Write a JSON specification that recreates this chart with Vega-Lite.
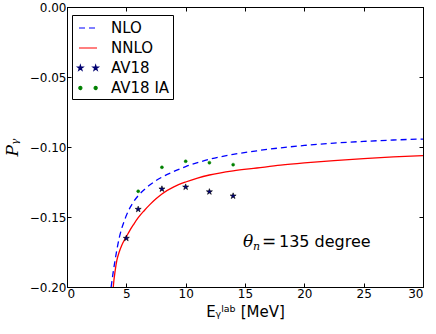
{
  "$schema": "https://vega.github.io/schema/vega-lite/v6.json",
  "width": 356,
  "height": 280,
  "autosize": {"type": "none"},
  "padding": {"left": 67, "top": 7, "right": 13, "bottom": 47},
  "background": "white",
  "config": {
    "view": {"stroke": "black", "strokeWidth": 1},
    "font": "DejaVu Sans",
    "axis": {
      "grid": false,
      "domainColor": "black",
      "domainWidth": 1,
      "tickColor": "black",
      "tickWidth": 1,
      "tickSize": -4,
      "labelColor": "black",
      "titleColor": "black",
      "labelFont": "DejaVu Sans",
      "labelFontSize": 12,
      "labelPadding": 5,
      "titleFont": "DejaVu Sans",
      "titleFontWeight": "normal"
    },
    "legend": {
      "orient": "none",
      "legendX": 5,
      "legendY": 8,
      "strokeColor": "black",
      "fillColor": "white",
      "padding": 3,
      "symbolSize": 324,
      "symbolOffset": 3,
      "symbolStrokeWidth": 1.2,
      "symbolOpacity": 1,
      "labelFont": "DejaVu Sans",
      "labelFontSize": 15,
      "labelColor": "black",
      "labelOffset": 13,
      "rowPadding": 2,
      "labelLimit": 200
    }
  },
  "datasets": {
    "curves": [
      {"series": "NLO", "E": 3.72, "P": -0.2},
      {"series": "NLO", "E": 3.8, "P": -0.195},
      {"series": "NLO", "E": 3.9, "P": -0.189},
      {"series": "NLO", "E": 4.05, "P": -0.181},
      {"series": "NLO", "E": 4.2, "P": -0.1735},
      {"series": "NLO", "E": 4.4, "P": -0.165},
      {"series": "NLO", "E": 4.6, "P": -0.1585},
      {"series": "NLO", "E": 4.8, "P": -0.1535},
      {"series": "NLO", "E": 5.0, "P": -0.149},
      {"series": "NLO", "E": 5.3, "P": -0.1435},
      {"series": "NLO", "E": 5.6, "P": -0.1393},
      {"series": "NLO", "E": 6.0, "P": -0.1348},
      {"series": "NLO", "E": 6.5, "P": -0.1305},
      {"series": "NLO", "E": 7.0, "P": -0.127},
      {"series": "NLO", "E": 7.5, "P": -0.124},
      {"series": "NLO", "E": 8.0, "P": -0.1215},
      {"series": "NLO", "E": 9.0, "P": -0.1175},
      {"series": "NLO", "E": 10.0, "P": -0.114},
      {"series": "NLO", "E": 11.0, "P": -0.1112},
      {"series": "NLO", "E": 12.0, "P": -0.1088},
      {"series": "NLO", "E": 14.0, "P": -0.1053},
      {"series": "NLO", "E": 16.0, "P": -0.1027},
      {"series": "NLO", "E": 18.0, "P": -0.1006},
      {"series": "NLO", "E": 20.0, "P": -0.0989},
      {"series": "NLO", "E": 22.5, "P": -0.0972},
      {"series": "NLO", "E": 25.0, "P": -0.096},
      {"series": "NLO", "E": 27.5, "P": -0.095},
      {"series": "NLO", "E": 30.0, "P": -0.0943},
      {"series": "NNLO", "E": 3.9, "P": -0.2},
      {"series": "NNLO", "E": 3.95, "P": -0.1955},
      {"series": "NNLO", "E": 4.0, "P": -0.192},
      {"series": "NNLO", "E": 4.1, "P": -0.186},
      {"series": "NNLO", "E": 4.2, "P": -0.181},
      {"series": "NNLO", "E": 4.4, "P": -0.175},
      {"series": "NNLO", "E": 4.6, "P": -0.1705},
      {"series": "NNLO", "E": 4.8, "P": -0.167},
      {"series": "NNLO", "E": 5.0, "P": -0.164},
      {"series": "NNLO", "E": 5.3, "P": -0.1595},
      {"series": "NNLO", "E": 5.6, "P": -0.1555},
      {"series": "NNLO", "E": 6.0, "P": -0.1505},
      {"series": "NNLO", "E": 6.5, "P": -0.1455},
      {"series": "NNLO", "E": 7.0, "P": -0.141},
      {"series": "NNLO", "E": 7.5, "P": -0.137},
      {"series": "NNLO", "E": 8.0, "P": -0.1335},
      {"series": "NNLO", "E": 9.0, "P": -0.1285},
      {"series": "NNLO", "E": 10.0, "P": -0.125},
      {"series": "NNLO", "E": 11.0, "P": -0.1222},
      {"series": "NNLO", "E": 12.0, "P": -0.12},
      {"series": "NNLO", "E": 14.0, "P": -0.117},
      {"series": "NNLO", "E": 16.0, "P": -0.115},
      {"series": "NNLO", "E": 18.0, "P": -0.113},
      {"series": "NNLO", "E": 20.0, "P": -0.1114},
      {"series": "NNLO", "E": 22.5, "P": -0.1097},
      {"series": "NNLO", "E": 25.0, "P": -0.1083},
      {"series": "NNLO", "E": 27.5, "P": -0.1071},
      {"series": "NNLO", "E": 30.0, "P": -0.1062}
    ],
    "points": [
      {"series": "AV18", "E": 5, "P": -0.1652},
      {"series": "AV18", "E": 6, "P": -0.1445},
      {"series": "AV18", "E": 8, "P": -0.13},
      {"series": "AV18", "E": 10, "P": -0.1286},
      {"series": "AV18", "E": 12, "P": -0.132},
      {"series": "AV18", "E": 14, "P": -0.135},
      {"series": "AV18 IA", "E": 6, "P": -0.1316},
      {"series": "AV18 IA", "E": 8, "P": -0.1145},
      {"series": "AV18 IA", "E": 10, "P": -0.1102},
      {"series": "AV18 IA", "E": 12, "P": -0.1112},
      {"series": "AV18 IA", "E": 14, "P": -0.1126}
    ],
    "legend": [
      {"series": "NLO"},
      {"series": "NNLO"},
      {"series": "AV18"},
      {"series": "AV18 IA"}
    ],
    "note": [
      {"E": 14.83, "P": -0.1714}
    ]
  },
  "layer": [
    {
      "data": {"name": "curves"},
      "transform": [{"filter": "datum.series === 'NLO'"}],
      "mark": {"type": "line", "color": "#0000ff", "strokeWidth": 1.3, "strokeDash": [6, 4], "interpolate": "monotone", "clip": true},
      "encoding": {
        "x": {"field": "E", "type": "quantitative", "scale": {"domain": [0, 30], "nice": false},
              "axis": {"orient": "bottom", "values": [0, 5, 10, 15, 20, 25, 30], "format": "d", "title": "Eᵧˡᵃᵇ [MeV]", "titleFontSize": 15, "titlePadding": 5}},
        "y": {"field": "P", "type": "quantitative", "scale": {"domain": [-0.2, 0], "nice": false, "zero": false},
              "axis": {"orient": "left", "values": [-0.2, -0.15, -0.1, -0.05, 0], "format": ".2f", "title": "Pᵧ", "titleFont": "DejaVu Serif", "titleFontStyle": "italic", "titleFontSize": 17, "titlePadding": 8}}
      }
    },
    {
      "data": {"name": "curves"},
      "transform": [{"filter": "datum.series === 'NNLO'"}],
      "mark": {"type": "line", "color": "#ff0000", "strokeWidth": 1.3, "interpolate": "monotone", "clip": true},
      "encoding": {
        "x": {"field": "E", "type": "quantitative",
              "axis": {"orient": "top", "values": [0, 5, 10, 15, 20, 25, 30], "labels": false, "title": null}},
        "y": {"field": "P", "type": "quantitative",
              "axis": {"orient": "right", "values": [-0.2, -0.15, -0.1, -0.05, 0], "labels": false, "title": null}}
      }
    },
    {
      "data": {"name": "points"},
      "transform": [{"filter": "datum.series === 'AV18'"}],
      "mark": {"type": "point", "filled": true, "fill": "#000080", "stroke": "#000000", "strokeWidth": 0.6, "opacity": 1, "size": 40,
               "shape": "M0,-1L0.2245,-0.309L0.951,-0.309L0.3633,0.118L0.588,0.809L0,0.382L-0.588,0.809L-0.3633,0.118L-0.951,-0.309L-0.2245,-0.309Z"},
      "encoding": {
        "x": {"field": "E", "type": "quantitative", "axis": null},
        "y": {"field": "P", "type": "quantitative", "axis": null}
      }
    },
    {
      "data": {"name": "points"},
      "transform": [{"filter": "datum.series === 'AV18 IA'"}],
      "mark": {"type": "point", "filled": true, "fill": "#008000", "stroke": "#008000", "strokeWidth": 0.5, "opacity": 1, "size": 9, "shape": "circle"},
      "encoding": {
        "x": {"field": "E", "type": "quantitative", "axis": null},
        "y": {"field": "P", "type": "quantitative", "axis": null}
      }
    },
    {
      "data": {"name": "legend"},
      "mark": {"type": "point", "opacity": 0},
      "encoding": {
        "fill": {"field": "series", "type": "nominal",
                 "scale": {"domain": ["NLO", "NNLO", "AV18", "AV18 IA"], "range": ["transparent", "transparent", "#000080", "#008000"]},
                 "legend": {"title": null}},
        "stroke": {"field": "series", "type": "nominal",
                   "scale": {"domain": ["NLO", "NNLO", "AV18", "AV18 IA"], "range": ["#0000ff", "#ff0000", "#000070", "#008000"]},
                   "legend": {"title": null}},
        "shape": {"field": "series", "type": "nominal",
                  "scale": {"domain": ["NLO", "NNLO", "AV18", "AV18 IA"],
                            "range": ["M-1,0L1,0", "M-1,0L1,0",
                                      "M-0.85,-0.3L-0.783,-0.093L-0.565,-0.093L-0.741,0.035L-0.674,0.243L-0.85,0.115L-1.026,0.243L-0.959,0.035L-1.135,-0.093L-0.917,-0.093Z M0.85,-0.3L0.917,-0.093L1.135,-0.093L0.959,0.035L1.026,0.243L0.85,0.115L0.674,0.243L0.741,0.035L0.565,-0.093L0.783,-0.093Z",
                                      "M-1.02,0A0.17,0.17 0 1,0 -0.68,0A0.17,0.17 0 1,0 -1.02,0Z M0.68,0A0.17,0.17 0 1,0 1.02,0A0.17,0.17 0 1,0 0.68,0Z"]},
                  "legend": {"title": null}},
        "strokeDash": {"field": "series", "type": "nominal",
                       "scale": {"domain": ["NLO", "NNLO", "AV18", "AV18 IA"], "range": [[6, 4], [1, 0], [1, 0], [1, 0]]},
                       "legend": {"title": null}}
      }
    },
    {
      "data": {"name": "note"},
      "mark": {"type": "text", "text": "θ", "font": "DejaVu Serif", "fontStyle": "italic", "fontSize": 17, "align": "left", "baseline": "alphabetic", "color": "black"},
      "encoding": {
        "x": {"field": "E", "type": "quantitative", "axis": null},
        "y": {"field": "P", "type": "quantitative", "axis": null}
      }
    },
    {
      "data": {"name": "note"},
      "mark": {"type": "text", "text": "n", "font": "DejaVu Serif", "fontStyle": "italic", "fontSize": 11, "align": "left", "baseline": "alphabetic", "dx": 10, "dy": 3, "color": "black"},
      "encoding": {
        "x": {"field": "E", "type": "quantitative", "axis": null},
        "y": {"field": "P", "type": "quantitative", "axis": null}
      }
    },
    {
      "data": {"name": "note"},
      "mark": {"type": "text", "text": "=", "font": "DejaVu Sans", "fontSize": 17, "align": "left", "baseline": "alphabetic", "dx": 19, "color": "black"},
      "encoding": {
        "x": {"field": "E", "type": "quantitative", "axis": null},
        "y": {"field": "P", "type": "quantitative", "axis": null}
      }
    },
    {
      "data": {"name": "note"},
      "mark": {"type": "text", "text": "135 degree", "font": "DejaVu Sans", "fontSize": 16, "align": "left", "baseline": "alphabetic", "dx": 36, "color": "black"},
      "encoding": {
        "x": {"field": "E", "type": "quantitative", "axis": null},
        "y": {"field": "P", "type": "quantitative", "axis": null}
      }
    }
  ],
  "resolve": {"axis": {"x": "independent", "y": "independent"}}
}
